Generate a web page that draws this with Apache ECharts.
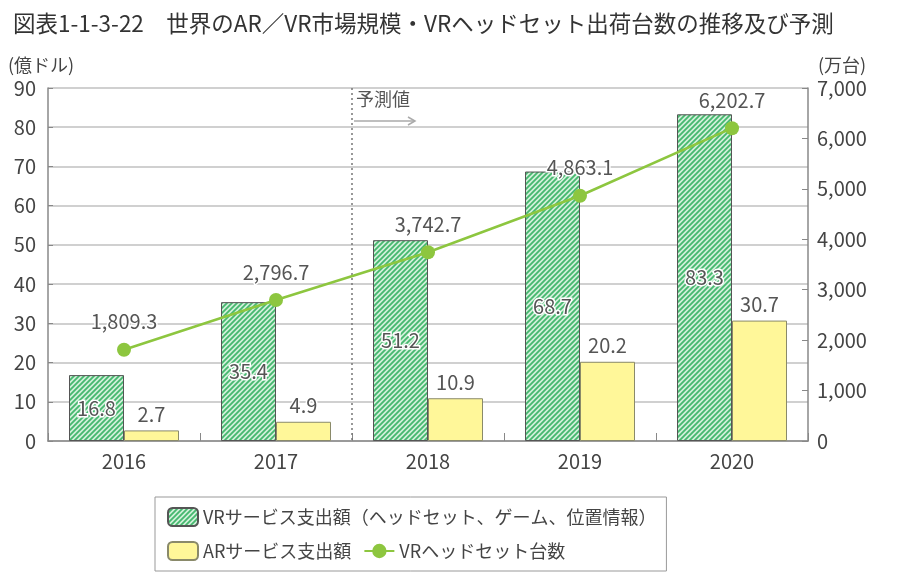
<!DOCTYPE html>
<html><head><meta charset="utf-8">
<script src="https://cdn.jsdelivr.net/npm/echarts@6/dist/echarts.min.js"></script>
<style>html,body{margin:0;padding:0;background:#fff}#c{width:900px;height:584px}</style>
</head><body><div id="c"></div>
<script>
const categories = ['2016','2017','2018','2019','2020'];
const vrSpend = [16.8, 35.4, 51.2, 68.7, 83.3];
const arSpend = [2.7, 4.9, 10.9, 20.2, 30.7];
const vrUnits = [1809.3, 2796.7, 3742.7, 4863.1, 6202.7];
const leftTicks = [0,10,20,30,40,50,60,70,80,90];
const rightTicks = [0,1000,2000,3000,4000,5000,6000,7000];
const seriesNames = ['VRサービス支出額（ヘッドセット、ゲーム、位置情報）','ARサービス支出額','VRヘッドセット台数'];

const FONT = '"Noto Sans CJK JP", "Noto Sans", sans-serif';
function stripe(){
  const c = document.createElement('canvas');
  c.width = 5; c.height = 5;
  const g = c.getContext('2d');
  g.fillStyle = '#d2f0da'; g.fillRect(0,0,5,5);
  g.strokeStyle = '#45b86e'; g.lineWidth = 1.8;
  g.beginPath();
  g.moveTo(-1,6); g.lineTo(6,-1);
  g.moveTo(-3.5,3.5); g.lineTo(3.5,-3.5);
  g.moveTo(1.5,8.5); g.lineTo(8.5,1.5);
  g.stroke();
  return c;
}
const pat = {image: stripe(), repeat: 'repeat'};
const fmt = v => v.toLocaleString('en-US',{minimumFractionDigits:1, maximumFractionDigits:1});

const chart = echarts.init(document.getElementById('c'));
chart.setOption({
  animation:false,
  textStyle:{fontFamily:FONT},
  title:{text:'図表1-1-3-22　世界のAR／VR市場規模・VRヘッドセット出荷台数の推移及び予測', left:8, top:7,
    textStyle:{fontFamily:FONT, fontSize:22.5, fontWeight:'normal', color:'#333'}},
  grid:{left:48, right:92, top:88, bottom:143},
  legend:{left:155, top:497, width:500, orient:'horizontal', padding:[9,10,9,12],
    borderColor:'#999', borderWidth:1, itemWidth:30, itemHeight:18, itemGap:12,
    textStyle:{fontFamily:FONT, fontSize:18, color:'#444', lineHeight:22},
    data:[{name:seriesNames[0]},{name:seriesNames[1]},{name:seriesNames[2]}]},
  xAxis:{type:'category', data:categories,
    axisLine:{lineStyle:{color:'#888', width:1.5}},
    axisTick:{show:true, inside:true, length:8, lineStyle:{color:'#888'}},
    axisLabel:{fontFamily:FONT, fontSize:20, color:'#444', margin:10}},
  yAxis:[
    {type:'value', min:0, max:90, interval:10, name:'(億ドル)', nameLocation:'end',
     nameGap:14, nameTextStyle:{fontFamily:FONT, fontSize:18, color:'#444', align:'left', padding:[0,0,0,-40]},
     axisLine:{show:true, lineStyle:{color:'#888', width:1.5}},
     axisTick:{show:true, inside:true, length:5, lineStyle:{color:'#888'}},
     axisLabel:{fontFamily:FONT, fontSize:20, color:'#444', margin:12},
     splitLine:{lineStyle:{color:'#d0d0d0', width:2}}},
    {type:'value', min:0, max:7000, interval:1000, name:'(万台)', nameLocation:'end',
     nameGap:14, nameTextStyle:{fontFamily:FONT, fontSize:18, color:'#444', align:'left', padding:[0,0,0,10]},
     axisLine:{show:true, lineStyle:{color:'#888', width:1.5}},
     axisTick:{show:true, inside:true, length:6, lineStyle:{color:'#888'}},
     axisLabel:{fontFamily:FONT, fontSize:20, color:'#444', margin:9,
       formatter:v=>v.toLocaleString('en-US')},
     splitLine:{show:false}}
  ],
  series:[
    {name:seriesNames[0], type:'bar', data:vrSpend, barWidth:55, barGap:'0%',
     itemStyle:{color:pat, borderColor:'#555', borderWidth:1},
     label:{show:true, position:'inside', fontFamily:FONT, fontSize:20, color:'#555',
       textBorderColor:'#fff', textBorderWidth:3}},
    {name:seriesNames[1], type:'bar', data:arSpend, barWidth:55,
     itemStyle:{color:'#fff799', borderColor:'#8a8a6a', borderWidth:1},
     label:{show:true, position:'top', distance:6, fontFamily:FONT, fontSize:20, color:'#555',
       textBorderColor:'#fff', textBorderWidth:3}},
    {name:seriesNames[2], type:'line', yAxisIndex:1, data:vrUnits, symbol:'circle', symbolSize:14,
     lineStyle:{color:'#8dc63f', width:2.5}, itemStyle:{color:'#8dc63f'},
     label:{show:true, position:'top', distance:11, fontFamily:FONT, fontSize:20, color:'#555',
       textBorderColor:'#fff', textBorderWidth:3, formatter:p=>fmt(p.value)}, z:5}
  ]
});

// forecast divider between 2017 and 2018
const x1 = chart.convertToPixel({xAxisIndex:0}, categories[1]);
const x2 = chart.convertToPixel({xAxisIndex:0}, categories[2]);
const xm = (x1+x2)/2;
const yTop = chart.convertToPixel({yAxisIndex:0}, 90);
const yBot = chart.convertToPixel({yAxisIndex:0}, 0);
chart.setOption({graphic:[
  {type:'line', shape:{x1:xm,y1:yTop,x2:xm,y2:yBot}, style:{stroke:'#777', lineWidth:1.5, lineDash:[2,3]}, z:1},
  {type:'text', left:xm+4, top:yTop+2, style:{text:'予測値', font:'18px '+FONT, fill:'#555'}},
  {type:'line', shape:{x1:xm+2,y1:yTop+33,x2:xm+62,y2:yTop+33}, style:{stroke:'#aaa', lineWidth:1.5}},
  {type:'polyline', shape:{points:[[xm+56,yTop+29],[xm+63,yTop+33],[xm+56,yTop+37]]}, style:{stroke:'#aaa', fill:null, lineWidth:1.5}}
]});
</script></body></html>
